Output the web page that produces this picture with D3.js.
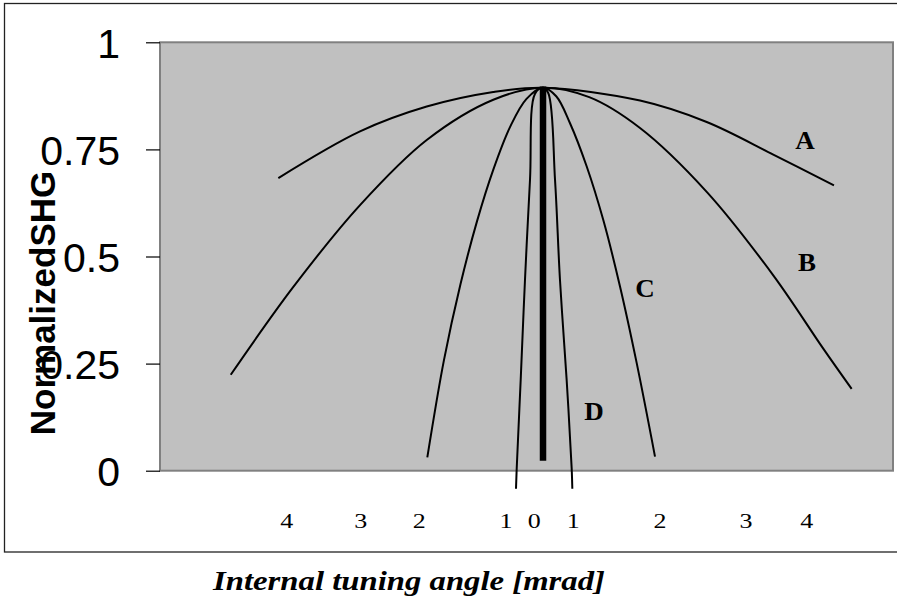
<!DOCTYPE html>
<html>
<head>
<meta charset="utf-8">
<script src="https://cdn.jsdelivr.net/npm/d3@7"></script>
<style>
  html, body { margin: 0; padding: 0; background: #ffffff; }
  svg { display: block; }
</style>
</head>
<body>
<svg id="chart" width="897" height="615"></svg>
<script>
// ---- data (x in internal angle units, y = normalized SHG) ----
const curveA = [[-4.008,0.683],[-2.771,0.792],[-1.761,0.850],[-0.753,0.884],[0,0.894],
                [1.469,0.864],[2.479,0.814],[3.487,0.738],[4.406,0.666]];
const curveB = [[-4.729,0.224],[-3.781,0.429],[-2.771,0.620],[-1.761,0.772],[-0.753,0.866],[0,0.894],
                [0.7,0.872],[1.469,0.800],[2.479,0.651],[3.487,0.456],[4.244,0.285],[4.674,0.191]];
const curveC = [[-1.752,0.031],[-1.5,0.258],[-1.25,0.435],[-1.0,0.582],[-0.75,0.704],[-0.5,0.802],[-0.25,0.868],[0,0.894],
                [0.2,0.874],[0.409,0.811],[0.662,0.710],[0.913,0.585],[1.166,0.430],[1.419,0.251],[1.696,0.033]];
const curveD = [[-0.409,-0.042],[-0.398,0.006],[-0.338,0.212],[-0.273,0.445],[-0.197,0.679],[-0.121,0.880],[0,0.894],
                [0.081,0.881],[0.182,0.679],[0.257,0.445],[0.358,0.212],[0.434,0.006],[0.444,-0.042]];
const peakLine = [[0,0.023],[0,0.897]];
const yTicks = [0, 0.25, 0.5, 0.75, 1];
const yTickLabels = ["0", "0.25", "0.5", "0.75", "1"];
const xTickPositions = [-3.881, -2.760, -1.873, -0.560, -0.132, 0.459, 1.772, 3.074, 3.993];
const xTickLabels = ["4", "3", "2", "1", "0", "1", "2", "3", "4"];
const curveNames = ["A", "B", "C", "D"];
const curveNamePos = [[3.967, 0.751], [3.998, 0.466], [1.545, 0.405], [0.772, 0.118]];
const yTitle = "NormalizedSHG";
const xTitle = "Internal tuning angle [mrad]";

// ---- layout ----
const svg = d3.select("#chart");
const plot = { left: 160, right: 893, top: 42.3, bottom: 470.7 };

const x = d3.scaleLinear().domain([-5.8, 5.3]).range([plot.left, plot.right]);
const y = d3.scaleLinear().domain([0, 1]).range([plot.bottom, plot.top]);

// outer frame
svg.append("rect")
  .attr("x", 4.5).attr("y", 3.5).attr("width", 900).attr("height", 548.5)
  .attr("fill", "none").attr("stroke", "#222").attr("stroke-width", 1.3);

// plot area
svg.append("rect")
  .attr("x", plot.left).attr("y", plot.top)
  .attr("width", plot.right - plot.left).attr("height", plot.bottom - plot.top)
  .attr("fill", "#c0c0c0").attr("stroke", "#808080").attr("stroke-width", 2);

// y axis
const yAxis = d3.axisLeft(y).tickValues(yTicks)
  .tickFormat((d, i) => yTickLabels[i]).tickSize(14).tickPadding(26);
const yg = svg.append("g").attr("transform", `translate(${plot.left},0)`).call(yAxis);
yg.select(".domain").remove();
yg.selectAll(".tick line").attr("stroke", "#000").attr("stroke-width", 1.2);
yg.selectAll(".tick text")
  .attr("font-family", "'Liberation Sans', Arial, sans-serif")
  .attr("font-size", 41).attr("fill", "#000").attr("dy", "0.36em");

// x tick labels (annotation style, no tick marks)
svg.append("g").selectAll("text")
  .data(xTickPositions)
  .join("text")
  .attr("transform", d => `translate(${x(d)},528) scale(1.18,1)`)
  .attr("text-anchor", "middle")
  .attr("font-family", "'Liberation Serif', 'Times New Roman', serif")
  .attr("font-size", 22).attr("fill", "#000")
  .text((d, i) => xTickLabels[i]);

// curves
const line = d3.line().x(d => x(d[0])).y(d => y(d[1])).curve(d3.curveCatmullRom.alpha(0.5));
svg.append("g").selectAll("path")
  .data([curveA, curveB, curveC, curveD])
  .join("path")
  .attr("d", line)
  .attr("fill", "none").attr("stroke", "#000").attr("stroke-width", 2)
  .attr("stroke-linejoin", "round");

// thick peak line
svg.append("path")
  .attr("d", d3.line().x(d => x(d[0])).y(d => y(d[1]))(peakLine))
  .attr("fill", "none").attr("stroke", "#000").attr("stroke-width", 6.5);

// curve names
svg.append("g").selectAll("text")
  .data(curveNamePos)
  .join("text")
  .attr("transform", d => `translate(${x(d[0])},${y(d[1])}) scale(1.08,1)`)
  .attr("text-anchor", "middle")
  .attr("font-family", "'Liberation Serif', 'Times New Roman', serif")
  .attr("font-weight", "bold").attr("font-size", 25).attr("fill", "#000")
  .text((d, i) => curveNames[i]);

// y title
svg.append("text")
  .attr("transform", "translate(55,303) rotate(-90)")
  .attr("text-anchor", "middle")
  .attr("font-family", "'Liberation Sans', Arial, sans-serif")
  .attr("font-weight", "bold").attr("font-size", 35).attr("fill", "#000")
  .text(yTitle);

// x title
svg.append("text")
  .attr("x", 409).attr("y", 590)
  .attr("text-anchor", "middle")
  .attr("textLength", 392).attr("lengthAdjust", "spacingAndGlyphs")
  .attr("font-family", "'Liberation Serif', 'Times New Roman', serif")
  .attr("font-weight", "bold").attr("font-style", "italic").attr("font-size", 28).attr("fill", "#000")
  .text(xTitle);
</script>
</body>
</html>
